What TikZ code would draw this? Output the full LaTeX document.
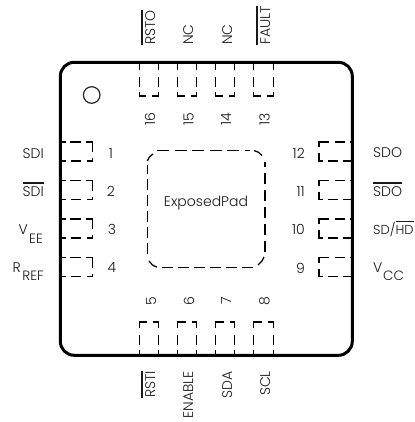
\documentclass[tikz,border=0pt]{standalone}
\usepackage{fontspec}
\setmainfont{Poppins}[UprightFont=* Light]
\newcommand\ovl[2][1.1pt]{\leavevmode\vbox{\hrule height #1\kern 2.6pt\hbox{#2}}}
\tikzset{
  padline/.style={line width=1.15pt},
  epline/.style={line width=1.25pt},
  lbl/.style={inner sep=0pt,font=\fontsize{14}{16}\selectfont,text=black!90},
  tlbl/.style={lbl,rotate=90,anchor=base west},
  blbl/.style={lbl,rotate=90,anchor=base east},
  pinnum/.style={lbl},
  sublbl/.style={lbl,font=\fontsize{13.5}{16}\selectfont}
}
\begin{document}
\begin{tikzpicture}[x=1pt,y=-1pt]
\useasboundingbox (0,0) rectangle (414,422);
\fill[white] (0,0) rectangle (414,422);
% package outline
\draw[line width=3pt,rounded corners=14pt] (60.3,62.3) rectangle (352.3,355.3);
\draw[line width=1.2pt,black!85] (91.7,95) circle (8.3);
% exposed pad
\draw[epline,dash pattern=on 12pt off 5.5pt] (157,150.3) -- (250,150.3);
\draw[epline,dash pattern=on 11pt off 6pt] (265,252) -- (265,162);
\draw[epline,dash pattern=on 11pt off 5pt] (253,267.7) -- (160,267.7);
\draw[epline,dash pattern=on 11pt off 5pt] (147.3,254) -- (147.3,165);
\draw[epline] (147.3,161) .. controls (148,158) and (150,156) .. (153,154);
\draw[epline] (254,150.5) .. controls (257,151) and (260,153) .. (262,155.5);
\draw[epline] (264,257) .. controls (263,260) and (261,263) .. (258,265);
\draw[epline] (149,261) .. controls (151,264) and (153,266) .. (157,267);
\node[lbl] (ep) at (206,203.5) {ExposedPad};
% left pads
\foreach \y in {142,180.5,219,257.5}{
  \draw[padline] (61.5,\y) -- (65.5,\y) (70,\y) -- (80.5,\y)
    (85.5,\y) -- (92.7,\y) -- (92.7,\y+10)
    (92.7,\y+16) -- (92.7,\y+19) -- (87,\y+19)
    (81,\y+19) -- (71,\y+19) (66,\y+19) -- (61.5,\y+19);
}
% right pads
\foreach \y in {142,180.5,219,257.5}{
  \draw[padline] (319,\y+5) -- (319,\y) -- (329,\y) (335,\y) -- (345,\y) (350,\y) -- (351,\y)
    (319,\y+11) -- (319,\y+19) -- (323,\y+19)
    (328,\y+19) -- (338,\y+19) (343,\y+19) -- (351,\y+19);
}
% top pads
\foreach \x in {139.3,177.5,215.6,253.8}{
  \draw[padline] (\x,64) -- (\x,70) (\x,77) -- (\x,87) (\x,92) -- (\x,96) -- (\x+7,96)
    (\x+13,96) -- (\x+19.3,96) -- (\x+19.3,92) (\x+19.3,87) -- (\x+19.3,77) (\x+19.3,70) -- (\x+19.3,64);
}
% bottom pads
\foreach \x in {139.3,177.5,215.6,253.8}{
  \draw[padline] (\x,328) -- (\x,322) -- (\x+8,322) (\x+14,322) -- (\x+19.3,322) -- (\x+19.3,328)
    (\x,335) -- (\x,345) (\x+19.3,335) -- (\x+19.3,345)
    (\x,350) -- (\x,354) (\x+19.3,350) -- (\x+19.3,354);
}
% pin numbers
\node[pinnum] (p1) at (111,153) {1};
\node[pinnum] (p2) at (111,191) {2};
\node[pinnum] (p3) at (112,229) {3};
\node[pinnum] (p4) at (112,268) {4};
\node[pinnum,anchor=east] (p12) at (305,153) {12};
\node[pinnum,anchor=east] (p11) at (305,191) {11};
\node[pinnum,anchor=east] (p10) at (305,229) {10};
\node[pinnum,anchor=east] (p9) at (305,268) {9};
\node[pinnum,rotate=90] (p16) at (150,119) {16};
\node[pinnum,rotate=90] (p15) at (188.5,119) {15};
\node[pinnum,rotate=90] (p14) at (226,119) {14};
\node[pinnum,rotate=90] (p13) at (264.5,119) {13};
\node[pinnum,rotate=90] (p5) at (151,301) {5};
\node[pinnum,rotate=90] (p6) at (189,301) {6};
\node[pinnum,rotate=90] (p7) at (226,301) {7};
\node[pinnum,rotate=90] (p8) at (264.5,301) {8};
% left labels
\node[lbl,anchor=base east] (sdi) at (44,158) {SDI};
\node[lbl,anchor=base east] (sdib) at (44,196) {\ovl{SDI}};
\node[sublbl,anchor=base east] (ee) at (43,243) {EE};
\node[lbl,anchor=base east] (v) at (28,234) {V};
\node[sublbl,anchor=base east] (ref) at (44,280.5) {REF};
\node[lbl,anchor=base east] (r) at (21,272.5) {R};
% right labels
\node[lbl,anchor=base west] (sdo) at (373,157.5) {SDO};
\node[lbl,anchor=base west] (sdob) at (373,196) {\ovl{SDO}};
\node[lbl,anchor=base west,font=\fontsize{13}{16}\selectfont] (sdhd) at (373,234) {SD/\ovl{HD}};
\node[lbl,anchor=base west] (vv) at (373,272) {V};
\node[sublbl,anchor=base west] (cc) at (383,280.5) {CC};
% top labels
\node[tlbl] (rsto) at (155,45) {\ovl[1.6pt]{RSTO}};
\node[tlbl] (nc1) at (193,45) {NC};
\node[tlbl] (nc2) at (232,45) {NC};
\node[tlbl] (fault) at (270,45) {\ovl[1.6pt]{FAULT}};
% bottom labels
\node[blbl] (rsti) at (155,371) {\ovl[1.6pt]{RSTI}};
\node[blbl] (enable) at (193,371) {ENABLE};
\node[blbl] (sda) at (232,371) {SDA};
\node[blbl] (scl) at (270,371) {SCL};
\end{tikzpicture}
\end{document}
